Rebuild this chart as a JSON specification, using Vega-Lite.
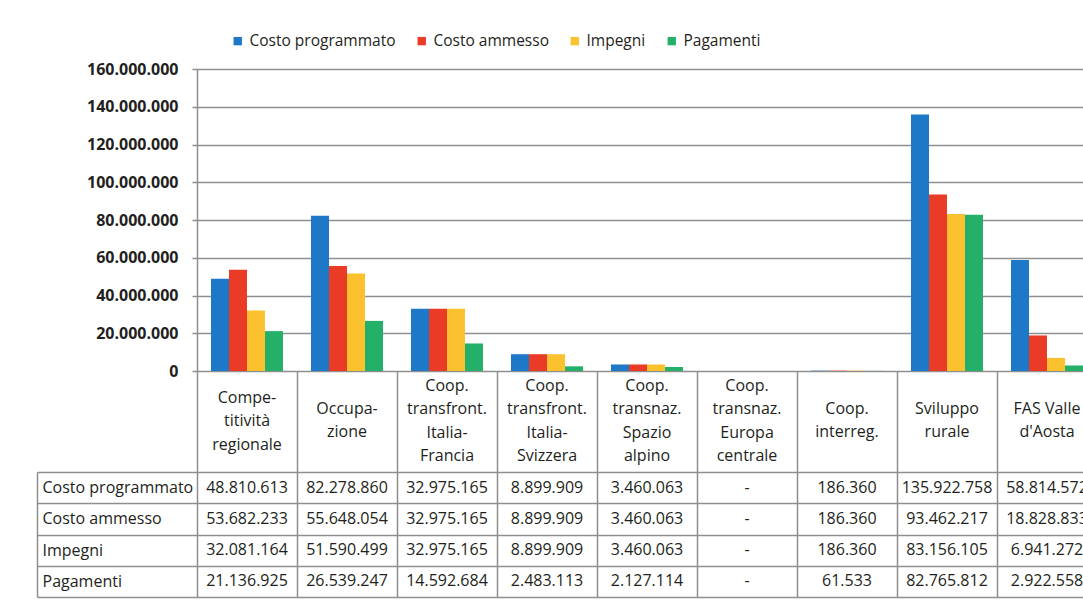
{
  "$schema": "https://vega.github.io/schema/vega-lite/v6.json",
  "padding": {"left": 36, "top": 33, "right": 0, "bottom": 5},
  "autosize": {"type": "pad"},
  "background": "white",
  "config": {
    "font": "Open Sans",
    "view": {"stroke": null},
    "locale": {"number": {"decimal": ",", "thousands": ".", "grouping": [3], "currency": ["€", ""]}}
  },
  "data": {
    "values": [
      {"category": "Compe-\ntitività\nregionale", "series": "Costo programmato", "value": 48810613},
      {"category": "Compe-\ntitività\nregionale", "series": "Costo ammesso", "value": 53682233},
      {"category": "Compe-\ntitività\nregionale", "series": "Impegni", "value": 32081164},
      {"category": "Compe-\ntitività\nregionale", "series": "Pagamenti", "value": 21136925},
      {"category": "Occupa-\nzione", "series": "Costo programmato", "value": 82278860},
      {"category": "Occupa-\nzione", "series": "Costo ammesso", "value": 55648054},
      {"category": "Occupa-\nzione", "series": "Impegni", "value": 51590499},
      {"category": "Occupa-\nzione", "series": "Pagamenti", "value": 26539247},
      {"category": "Coop.\ntransfront.\nItalia-\nFrancia", "series": "Costo programmato", "value": 32975165},
      {"category": "Coop.\ntransfront.\nItalia-\nFrancia", "series": "Costo ammesso", "value": 32975165},
      {"category": "Coop.\ntransfront.\nItalia-\nFrancia", "series": "Impegni", "value": 32975165},
      {"category": "Coop.\ntransfront.\nItalia-\nFrancia", "series": "Pagamenti", "value": 14592684},
      {"category": "Coop.\ntransfront.\nItalia-\nSvizzera", "series": "Costo programmato", "value": 8899909},
      {"category": "Coop.\ntransfront.\nItalia-\nSvizzera", "series": "Costo ammesso", "value": 8899909},
      {"category": "Coop.\ntransfront.\nItalia-\nSvizzera", "series": "Impegni", "value": 8899909},
      {"category": "Coop.\ntransfront.\nItalia-\nSvizzera", "series": "Pagamenti", "value": 2483113},
      {"category": "Coop.\ntransnaz.\nSpazio\nalpino", "series": "Costo programmato", "value": 3460063},
      {"category": "Coop.\ntransnaz.\nSpazio\nalpino", "series": "Costo ammesso", "value": 3460063},
      {"category": "Coop.\ntransnaz.\nSpazio\nalpino", "series": "Impegni", "value": 3460063},
      {"category": "Coop.\ntransnaz.\nSpazio\nalpino", "series": "Pagamenti", "value": 2127114},
      {"category": "Coop.\ntransnaz.\nEuropa\ncentrale", "series": "Costo programmato", "value": null},
      {"category": "Coop.\ntransnaz.\nEuropa\ncentrale", "series": "Costo ammesso", "value": null},
      {"category": "Coop.\ntransnaz.\nEuropa\ncentrale", "series": "Impegni", "value": null},
      {"category": "Coop.\ntransnaz.\nEuropa\ncentrale", "series": "Pagamenti", "value": null},
      {"category": "Coop.\ninterreg.", "series": "Costo programmato", "value": 186360},
      {"category": "Coop.\ninterreg.", "series": "Costo ammesso", "value": 186360},
      {"category": "Coop.\ninterreg.", "series": "Impegni", "value": 186360},
      {"category": "Coop.\ninterreg.", "series": "Pagamenti", "value": 61533},
      {"category": "Sviluppo\nrurale", "series": "Costo programmato", "value": 135922758},
      {"category": "Sviluppo\nrurale", "series": "Costo ammesso", "value": 93462217},
      {"category": "Sviluppo\nrurale", "series": "Impegni", "value": 83156105},
      {"category": "Sviluppo\nrurale", "series": "Pagamenti", "value": 82765812},
      {"category": "FAS Valle\nd'Aosta", "series": "Costo programmato", "value": 58814572},
      {"category": "FAS Valle\nd'Aosta", "series": "Costo ammesso", "value": 18828833},
      {"category": "FAS Valle\nd'Aosta", "series": "Impegni", "value": 6941272},
      {"category": "FAS Valle\nd'Aosta", "series": "Pagamenti", "value": 2922558}
    ]
  },
  "bounds": "flush",
  "spacing": 101,
  "vconcat": [
    {
      "width": 886,
      "height": 302,
      "mark": {"type": "bar"},
      "encoding": {
        "x": {
          "field": "category",
          "type": "nominal",
          "scale": {
            "domain": ["Compe-\ntitività\nregionale", "Occupa-\nzione", "Coop.\ntransfront.\nItalia-\nFrancia", "Coop.\ntransfront.\nItalia-\nSvizzera", "Coop.\ntransnaz.\nSpazio\nalpino", "Coop.\ntransnaz.\nEuropa\ncentrale", "Coop.\ninterreg.", "Sviluppo\nrurale", "FAS Valle\nd'Aosta"],
            "range": [0, 900],
            "paddingInner": 0,
            "paddingOuter": 0
          },
          "axis": {
            "title": null,
            "bandPosition": 0,
            "tickExtra": false,
            "ticks": true,
            "tickSize": 226,
            "tickColor": "#8f8f8f",
            "tickWidth": 1.5,
            "domain": false,
            "grid": false,
            "labelAngle": 0,
            "labelExpr": "split(datum.label, '\\n')",
            "labelPadding": -199.5,
            "labelBaseline": {
              "condition": [
                {"test": "length(split(datum.value, '\\n')) >= 4", "value": "line-bottom"},
                {"test": "length(split(datum.value, '\\n')) <= 2", "value": "line-top"}
              ],
              "value": "middle"
            },
            "labelAlign": "center",
            "labelLineHeight": 23.3,
            "labelFontSize": 16,
            "labelColor": "#231f20",
            "labelOverlap": false,
            "labelBound": false,
            "labelLimit": 0
          }
        },
        "xOffset": {
          "field": "series",
          "type": "nominal",
          "scale": {"domain": ["Costo programmato", "Costo ammesso", "Impegni", "Pagamenti"], "paddingInner": 0, "paddingOuter": 0.778}
        },
        "y": {
          "field": "value",
          "type": "quantitative",
          "scale": {"domain": [0, 160000000], "nice": false},
          "axis": {
            "title": null,
            "values": [0, 20000000, 40000000, 60000000, 80000000, 100000000, 120000000, 140000000, 160000000],
            "format": ",d",
            "grid": true,
            "gridColor": "#8f8f8f",
            "gridWidth": 1.5,
            "domain": true,
            "domainColor": "#8f8f8f",
            "domainWidth": 1.5,
            "ticks": true,
            "tickSize": 5,
            "tickColor": "#8f8f8f",
            "tickWidth": 1.5,
            "labelFontSize": 16,
            "labelFontWeight": "bold",
            "labelColor": "#231f20",
            "labelPadding": 14
          }
        },
        "color": {
          "field": "series",
          "type": "nominal",
          "scale": {
            "domain": ["Costo programmato", "Costo ammesso", "Impegni", "Pagamenti"],
            "range": ["#1e78c8", "#ea3b26", "#fbc12e", "#25b06a"]
          },
          "legend": {
            "title": null,
            "orient": "none",
            "legendX": 33,
            "legendY": -36,
            "direction": "horizontal",
            "columns": 4,
            "symbolType": "square",
            "symbolSize": 70,
            "symbolStrokeWidth": 0,
            "labelFontSize": 15.5,
            "labelColor": "#231f20",
            "labelLimit": 300,
            "columnPadding": 18,
            "labelOffset": 4
          }
        }
      }
    },
    {
      "width": 886,
      "height": 125,
      "mark": {"type": "text", "clip": true, "fontSize": 16, "color": "#231f20", "font": "Open Sans"},
      "encoding": {
        "x": {
          "field": "category",
          "type": "nominal",
          "scale": {
            "domain": ["Compe-\ntitività\nregionale", "Occupa-\nzione", "Coop.\ntransfront.\nItalia-\nFrancia", "Coop.\ntransfront.\nItalia-\nSvizzera", "Coop.\ntransnaz.\nSpazio\nalpino", "Coop.\ntransnaz.\nEuropa\ncentrale", "Coop.\ninterreg.", "Sviluppo\nrurale", "FAS Valle\nd'Aosta"],
            "range": [0, 900],
            "paddingInner": 0,
            "paddingOuter": 0
          },
          "axis": null
        },
        "y": {
          "field": "series",
          "type": "nominal",
          "scale": {"domain": ["Costo programmato", "Costo ammesso", "Impegni", "Pagamenti"], "paddingInner": 0, "paddingOuter": 0},
          "axis": {
            "title": null,
            "orient": "left",
            "offset": 160,
            "tickBand": "extent",
            "ticks": true,
            "tickSize": -160,
            "tickColor": "#8f8f8f",
            "tickWidth": 1.5,
            "grid": true,
            "gridColor": "#8f8f8f",
            "gridWidth": 1.5,
            "domain": true,
            "domainColor": "#8f8f8f",
            "domainWidth": 1.5,
            "labelAlign": "left",
            "labelBaseline": "middle",
            "labelPadding": 155,
            "labelFontSize": 16,
            "labelColor": "#231f20",
            "labelLimit": 0
          }
        },
        "text": {
          "condition": {"test": "datum.value === null", "value": "-"},
          "field": "value",
          "type": "quantitative",
          "format": ",d"
        }
      }
    }
  ]
}
